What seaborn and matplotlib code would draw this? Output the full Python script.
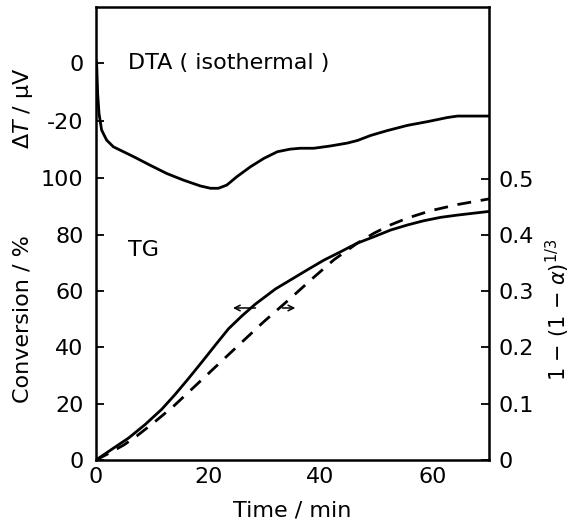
import numpy as np
import pandas as pd
import matplotlib
matplotlib.use("Agg")
import matplotlib.pyplot as plt
import seaborn as sns

# DTA trace (time in min, delta T in microvolt)
dta_time = [0.0, 0.12, 0.3, 0.54, 1.0, 1.9, 3.1, 4.9, 6.7, 9.6, 12.6, 15.6, 18.6,
            20.4, 21.8, 23.3, 25.1, 27.5, 29.9, 32.3, 34.6, 36.4, 38.8, 41.8, 44.8,
            46.6, 48.9, 51.9, 55.5, 59.1, 62.6, 64.4, 70.0]
dta_dT = [1.0, -0.1, -10.5, -17.4, -23.1, -26.6, -28.9, -30.6, -32.3, -35.2, -38.1,
          -40.4, -42.4, -43.2, -43.2, -42.1, -39.2, -35.8, -32.9, -30.6, -29.7, -29.4,
          -29.4, -28.6, -27.6, -26.7, -25.0, -23.3, -21.5, -20.2, -18.8, -18.3, -18.3]

# TG conversion (%)
tg_time = [0.0, 3.4, 5.8, 8.75, 11.7, 14.1, 16.5, 18.9, 21.25, 23.6, 26.0, 28.4,
           32.0, 34.6, 37.6, 40.6, 43.6, 46.5, 49.5, 52.5, 55.5, 58.4, 61.4, 64.4, 70.0]
tg_conv = [0.0, 4.6, 7.8, 12.6, 18.0, 23.3, 29.0, 34.9, 40.8, 46.6, 51.2, 55.4,
           60.8, 63.9, 67.5, 71.0, 74.0, 77.0, 79.3, 81.7, 83.5, 85.0, 86.2, 87.0, 88.3]

# 1-(1-alpha)^(1/3)
kin_time = [0.0, 2.5, 5.0, 7.3, 10.0, 13.75, 19.1, 23.9, 29.8, 34.6, 38.6, 42.4,
            46.5, 49.5, 52.5, 55.5, 59.6, 64.4, 70.0]
kin_val = [0.0, 0.013, 0.027, 0.043, 0.064, 0.095, 0.145, 0.190, 0.245, 0.287, 0.323,
           0.356, 0.385, 0.403, 0.418, 0.430, 0.443, 0.454, 0.464]

conv_ticks = [0, 20, 40, 60, 80, 100]
dta_ticks = [0, -20]
dta_labels = ['0', '-20']
kin_ticks = [0, 0.1, 0.2, 0.3, 0.4, 0.5]
kin_labels = ["0", "0.1", "0.2", "0.3", "0.4", "0.5"]
time_ticks = [0, 20, 40, 60]

sns.set_style("white")
plt.rcParams['font.family'] = ['DejaVu Sans']
plt.rcParams['text.color'] = 'black'
plt.rcParams['axes.labelcolor'] = 'black'
fs = 16

fig = plt.figure(figsize=(5.73, 5.24), dpi=100)
ax = fig.add_axes([0.1675, 0.1221, 0.6859, 0.8645])
ax_dta = ax.twinx()
ax_kin = ax.twinx()

df_dta = pd.DataFrame({'t': dta_time, 'v': dta_dT})
df_tg = pd.DataFrame({'t': tg_time, 'v': tg_conv})
df_kin = pd.DataFrame({'t': kin_time, 'v': kin_val})

sns.lineplot(data=df_tg, x='t', y='v', ax=ax, color='black', lw=2.0)
sns.lineplot(data=df_dta, x='t', y='v', ax=ax_dta, color='black', lw=2.0)
sns.lineplot(data=df_kin, x='t', y='v', ax=ax_kin, color='black', lw=2.0,
             dashes=False, linestyle=(0, (5, 3.5)))

ax.set_xlim(0, 70)
ax.set_ylim(0, 160.9)
ax_dta.set_ylim(-136.9, 19.3)
ax_kin.set_ylim(0, 0.805)

for a in (ax, ax_dta, ax_kin):
    a.set_xlabel('')
    a.set_ylabel('')

ax.set_xticks(time_ticks)
ax.set_yticks(conv_ticks)
ax.tick_params(axis='both', direction='in', length=6, width=1.3, labelsize=fs,
               colors='black')
ax.tick_params(axis='y', pad=9)
ax.tick_params(axis='x', pad=5)
for s in ax.spines.values():
    s.set_linewidth(1.8)
    s.set_color('black')

ax_dta.yaxis.set_ticks_position('left')
ax_dta.set_yticks(dta_ticks)
ax_dta.set_yticklabels(dta_labels)
ax_dta.tick_params(axis='y', direction='in', length=6, width=1.3, labelsize=fs,
                   pad=9, left=True, labelleft=True, right=False, labelright=False,
                   colors='black')
for s in ax_dta.spines.values():
    s.set_visible(False)

ax_kin.set_yticks(kin_ticks)
ax_kin.set_yticklabels(kin_labels)
ax_kin.tick_params(axis='y', direction='in', length=6, width=1.3, labelsize=fs, pad=7,
                   colors='black')
for s in ax_kin.spines.values():
    s.set_visible(False)

ax.text(5.7, 141, 'DTA ( isothermal )', fontsize=fs, va='center', ha='left')
ax.text(5.7, 74.6, 'TG', fontsize=fs, va='center', ha='left')

# arrows pointing to the axes each curve belongs to
ax.annotate('', xy=(23.9, 54), xytext=(28.9, 54),
            arrowprops=dict(arrowstyle='->', lw=1.1, color='black'))
ax.annotate('', xy=(36.0, 54), xytext=(32.7, 54),
            arrowprops=dict(arrowstyle='->', lw=1.1, color='black'))

fig.text(0.04, 1 - 108 / 524, 'Δ$T$ / μV', rotation=90, fontsize=fs,
         ha='center', va='center')
fig.text(0.04, 1 - 319 / 524, 'Conversion / %', rotation=90, fontsize=fs,
         ha='center', va='center')
fig.text(558 / 573, 1 - 310 / 524, r'1 − (1 − $\alpha$)$^{1/3}$', rotation=90,
         fontsize=15, ha='center', va='center')
fig.text(292 / 573, 1 - 510 / 524, 'Time / min', fontsize=fs, ha='center',
         va='center')

fig.savefig('out.png', dpi=100)
